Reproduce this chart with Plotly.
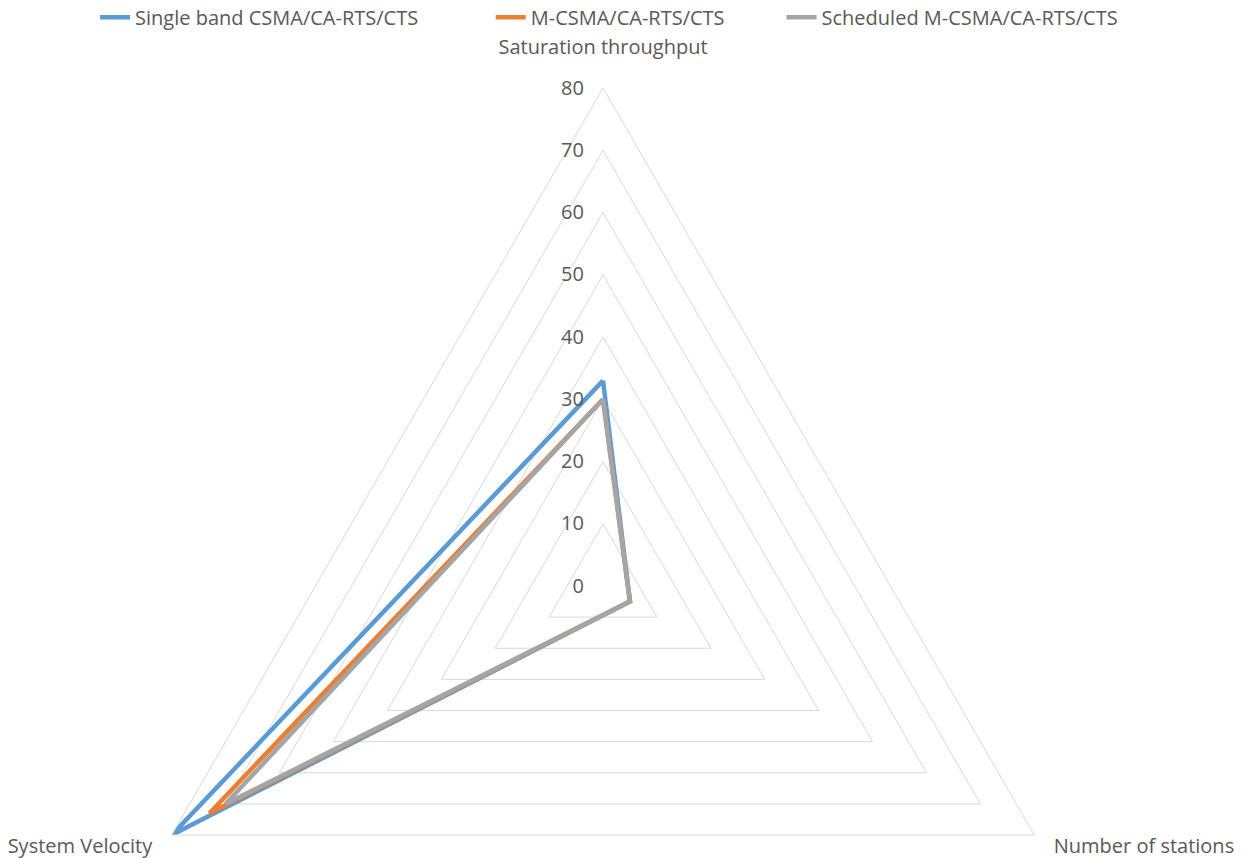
import plotly.graph_objects as go

categories = ["Saturation throughput", "Number of stations", "System Velocity"]
category_text = ["Saturation throughput<br>\u00a0", "\u00a0\u00a0\u00a0Number of stations", "System Velocity\u00a0\u00a0\u00a0"]
series_names = ["Single band CSMA/CA-RTS/CTS", "M-CSMA/CA-RTS/CTS", "Scheduled M-CSMA/CA-RTS/CTS"]
legend_pad = [13, 10, 0]
single_band = [33, 5, 80]
m_csma = [30, 5, 73]
scheduled = [30, 5, 70]
radial_ticks = [0, 10, 20, 30, 40, 50, 60, 70, 80]
radial_text = [str(v) + "\u00a0\u00a0\u00a0" for v in radial_ticks]

colors = ["#5B9BD5", "#ED7D31", "#A5A5A5"]

fig = go.Figure()
for name, pad, vals, col in zip(series_names, legend_pad, [single_band, m_csma, scheduled], colors):
    fig.add_trace(go.Scatterpolar(
        r=vals + vals[:1],
        theta=categories + categories[:1],
        mode="lines",
        name=name + "\u00a0" * pad,
        line=dict(color=col, width=4.5),
    ))

W, H = 1247, 1100
fig.update_layout(
    width=W, height=H,
    margin=dict(l=0, r=0, t=80, b=24, autoexpand=False),
    paper_bgcolor="white",
    font=dict(family="Open Sans", size=20, color="#595959"),
    legend=dict(orientation="h", x=0.482, xanchor="center", y=1.071, yanchor="middle",
                font=dict(size=20, color="#595959")),
    polar=dict(
        bgcolor="white",
        gridshape="linear",
        domain=dict(x=[97 / W, 1093 / W], y=[0, 1]),
        angularaxis=dict(
            type="category",
            categoryarray=categories,
            tickvals=categories,
            ticktext=category_text,
            rotation=90,
            direction="clockwise",
            showgrid=False,
            showline=True,
            linecolor="#d9d9d9",
            linewidth=1,
            ticks="",
            tickfont=dict(size=20, color="#595959"),
        ),
        radialaxis=dict(
            range=[0, 80],
            tickvals=radial_ticks,
            ticktext=radial_text,
            angle=90,
            tickangle=90,
            side="counterclockwise",
            showline=False,
            ticks="",
            gridcolor="#d9d9d9",
            gridwidth=1,
            tickfont=dict(size=20, color="#595959"),
        ),
    ),
)
fig.write_html("out.html")
